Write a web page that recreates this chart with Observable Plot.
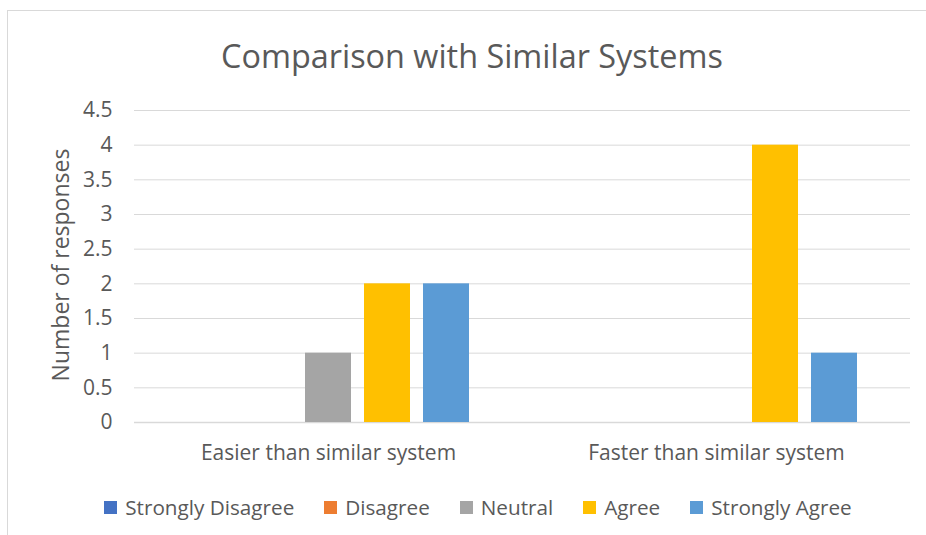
<!DOCTYPE html>
<html><head><meta charset="utf-8">
<script src="https://cdn.jsdelivr.net/npm/d3@7"></script>
<script src="https://cdn.jsdelivr.net/npm/@observablehq/plot@0.6"></script>
<style>
body{margin:0;background:#fff;width:926px;height:535px;overflow:hidden;position:relative;font-family:"Open Sans",sans-serif;color:#595959}
#frame{position:absolute;left:7px;top:10px;width:1000px;height:1000px;border:1px solid #d9d9d9;box-sizing:border-box}
#title{position:absolute;left:0;width:944px;top:35px;text-align:center;font-size:32.4px;line-height:40px;white-space:nowrap}
#ylabel{position:absolute;left:60px;top:265px;transform:translate(-50%,-50%) rotate(-90deg);font-size:23px;white-space:nowrap}
#chart{position:absolute;left:0;top:0}
#legend{position:absolute;left:0;width:956px;top:494px;display:flex;justify-content:center;gap:30px;font-size:20.7px;line-height:26px}
#legend .item{display:flex;align-items:center;gap:8px;white-space:nowrap}
#legend .sw{width:13px;height:13px;display:inline-block}
</style></head>
<body>
<div id="frame"></div>
<div id="title">Comparison with Similar Systems</div>
<div id="chart"></div>
<div id="ylabel">Number of responses</div>
<div id="legend"></div>
<script>
const categories = ["Easier than similar system", "Faster than similar system"];
const responses = ["Strongly Disagree", "Disagree", "Neutral", "Agree", "Strongly Agree"];
const colors = ["#4472C4", "#ED7D31", "#A5A5A5", "#FFC000", "#5B9BD5"];
const easierValues = [0, 0, 1, 2, 2];
const fasterValues = [0, 0, 0, 4, 1];
const yTicks = [0, 0.5, 1, 1.5, 2, 2.5, 3, 3.5, 4, 4.5];

const series = [easierValues, fasterValues];
const data = categories.flatMap((c, i) => responses.map((r, j) => ({category: c, response: r, value: series[i][j]})));

const chart = Plot.plot({
  width: 926,
  height: 470,
  marginTop: 110,
  marginBottom: 48,
  marginLeft: 134,
  marginRight: 16,
  style: {fontFamily: '"Open Sans", sans-serif', fontSize: "21px", color: "#595959", background: "transparent"},
  fx: {domain: categories, padding: 0, label: null, tickSize: 0, tickPadding: 23},
  x: {domain: responses, axis: null, paddingInner: 0.217, paddingOuter: 0.842},
  y: {domain: [0, 4.5], ticks: yTicks, label: null, tickSize: 0, tickPadding: 22, tickFormat: d => String(d)},
  color: {domain: responses, range: colors},
  marks: [
    Plot.gridY(yTicks, {stroke: "#d9d9d9", strokeOpacity: 1, strokeWidth: 1}),
    Plot.ruleY([0], {stroke: "#d9d9d9", strokeWidth: 1.5}),
    Plot.barY(data, {fx: "category", x: "response", y: "value", fill: "response"})
  ]
});
document.getElementById("chart").appendChild(chart);

const legend = document.getElementById("legend");
responses.forEach((r, i) => {
  const item = document.createElement("div");
  item.className = "item";
  const sw = document.createElement("span");
  sw.className = "sw";
  sw.style.background = colors[i];
  const t = document.createElement("span");
  t.textContent = r;
  item.appendChild(sw);
  item.appendChild(t);
  legend.appendChild(item);
});
</script>
</body></html>
